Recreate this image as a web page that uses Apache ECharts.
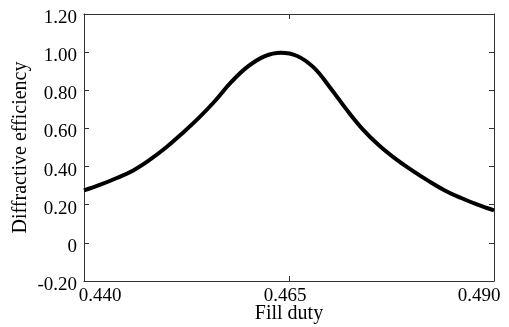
<!DOCTYPE html>
<html>
<head>
<meta charset="utf-8">
<script src="https://cdn.jsdelivr.net/npm/echarts@6.0.0/dist/echarts.min.js"></script>
<style>
  html, body { margin: 0; padding: 0; background: #fff; }
  #chart { width: 509px; height: 327px; }
</style>
</head>
<body>
<div id="chart"></div>
<script>
// fill duty (x) and diffractive efficiency (y)
const fillDuty = [0.440, 0.442, 0.444, 0.446, 0.448, 0.450, 0.452, 0.454, 0.456, 0.458,
  0.460, 0.462, 0.464, 0.466, 0.468, 0.470, 0.472, 0.474, 0.476, 0.478,
  0.480, 0.482, 0.484, 0.486, 0.488, 0.490]
const efficiency = [0.275, 0.305, 0.34, 0.38, 0.435, 0.50, 0.575, 0.655, 0.745, 0.845,
  0.925, 0.978, 0.997, 0.98, 0.92, 0.815, 0.70, 0.595, 0.51, 0.44,
  0.38, 0.325, 0.275, 0.235, 0.20, 0.17]

const xTickLabels = ["0.440", "0.465", "0.490"]
const yTickLabels = ["-0.20", "0", "0.20", "0.40", "0.60", "0.80", "1.00", "1.20"]

const font = "Liberation Serif"
const axisColor = "#333"

var myChart = echarts.init(document.getElementById("chart"))

const baseAxis = {
  axisLine: { show: true, onZero: false, lineStyle: { color: axisColor, width: 1 } },
  axisTick: { show: true, inside: true, length: 5, lineStyle: { color: axisColor } },
  splitLine: { show: false },
}

// tick labels in the original sit a little off their ticks
const labelText = { fontFamily: font, fontSize: 19, color: "#000" }

let option = {
  animation: false,
  grid: { left: 84, right: 15, top: 14, bottom: 46, outerBoundsMode: "none", containLabel: false },
  xAxis: [
    {
      ...baseAxis,
      type: "value",
      min: 0.44,
      max: 0.49,
      interval: 0.025,
      name: "Fill duty",
      nameLocation: "middle",
      nameGap: 23,
      nameMoveOverlap: false,
      nameTextStyle: { fontFamily: font, fontSize: 20, color: "#000" },
      axisLabel: {
        ...labelText,
        margin: 6,
        formatter: (v) => {
          const i = Math.round((v - 0.44) / 0.025)
          return "{l" + i + "|" + xTickLabels[i] + "}"
        },
        rich: {
          l0: { ...labelText, padding: [0, 0, 0, 32] },
          l1: { ...labelText, padding: [0, 8, 0, 0] },
          l2: { ...labelText, padding: [0, 30, 0, 0] },
        },
      },
    },
    {
      ...baseAxis,
      type: "value",
      position: "top",
      min: 0.44,
      max: 0.49,
      interval: 0.025,
      axisLabel: { show: false },
    },
  ],
  yAxis: [
    {
      ...baseAxis,
      type: "value",
      min: -0.2,
      max: 1.2,
      interval: 0.2,
      name: "Diffractive efficiency",
      nameLocation: "middle",
      nameGap: 53,
      nameMoveOverlap: false,
      nameTextStyle: { fontFamily: font, fontSize: 20, color: "#000" },
      axisLabel: {
        ...labelText,
        margin: 7,
        formatter: (v) => "{d|" + yTickLabels[Math.round((v + 0.2) / 0.2)] + "}",
        rich: {
          d: { ...labelText, padding: [8, 0, 0, 0] },
        },
      },
    },
    {
      ...baseAxis,
      type: "value",
      position: "right",
      min: -0.2,
      max: 1.2,
      interval: 0.2,
      axisLabel: { show: false },
    },
  ],
  series: [
    {
      type: "line",
      data: fillDuty.map((x, i) => [x, efficiency[i]]),
      smooth: 0.4,
      showSymbol: false,
      lineStyle: { color: "#000", width: 4 },
    },
  ],
}

option && myChart.setOption(option)
</script>
</body>
</html>
